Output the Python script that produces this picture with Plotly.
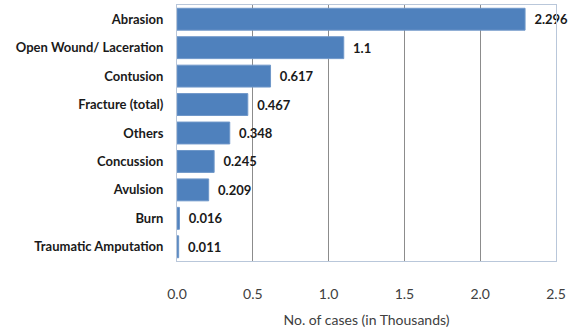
import plotly.graph_objects as go

# Injury types (top to bottom) and counts in thousands
injuries = ["Abrasion", "Open Wound/ Laceration", "Contusion", "Fracture (total)",
            "Others", "Concussion", "Avulsion", "Burn", "Traumatic Amputation"]
cases = [2.296, 1.1, 0.617, 0.467, 0.348, 0.245, 0.209, 0.016, 0.011]
value_labels = ["2.296", "1.1", "0.617", "0.467", "0.348", "0.245", "0.209", "0.016", "0.011"]
x_ticks = [0.0, 0.5, 1.0, 1.5, 2.0, 2.5]
x_tick_text = ["0.0", "0.5", "1.0", "1.5", "2.0", "2.5"]

FONT = "Lato, 'Open Sans', sans-serif"

fig = go.Figure(go.Bar(
    y=injuries,
    x=cases,
    orientation="h",
    marker=dict(color="#4f81bd", line=dict(color="#6f97c9", width=1)),
    text=["\u00a0\u00a0" + t for t in value_labels],
    textposition="outside",
    textfont=dict(family=FONT, size=13, color="#1a1a1a", weight="bold"),
    cliponaxis=False,
))

fig.update_layout(
    width=575, height=330,
    margin=dict(l=177, r=19, t=4, b=67),
    paper_bgcolor="white", plot_bgcolor="white",
    bargap=0.23,
    showlegend=False,
    xaxis=dict(
        range=[0, 2.5],
        tickvals=x_ticks, ticktext=x_tick_text,
        showgrid=True, gridcolor="#8c8c8c", gridwidth=1,
        zeroline=False,
        showline=True, linecolor="#b9c7da", mirror=True, linewidth=1,
        ticks="", ticklabelstandoff=20,
        tickfont=dict(family=FONT, size=14, color="#404040"),
        title=dict(text="No. of cases (in Thousands)", standoff=14,
                   font=dict(family=FONT, size=14, color="#404040")),
    ),
    yaxis=dict(
        categoryorder="array", categoryarray=injuries, autorange="reversed",
        showgrid=False, zeroline=False,
        showline=True, linecolor="#b9c7da", mirror=True, linewidth=1,
        ticks="", ticklabelstandoff=10,
        tickfont=dict(family=FONT, size=13, color="#1a1a1a", weight="bold"),
    ),
)

fig.write_html("out.html")
